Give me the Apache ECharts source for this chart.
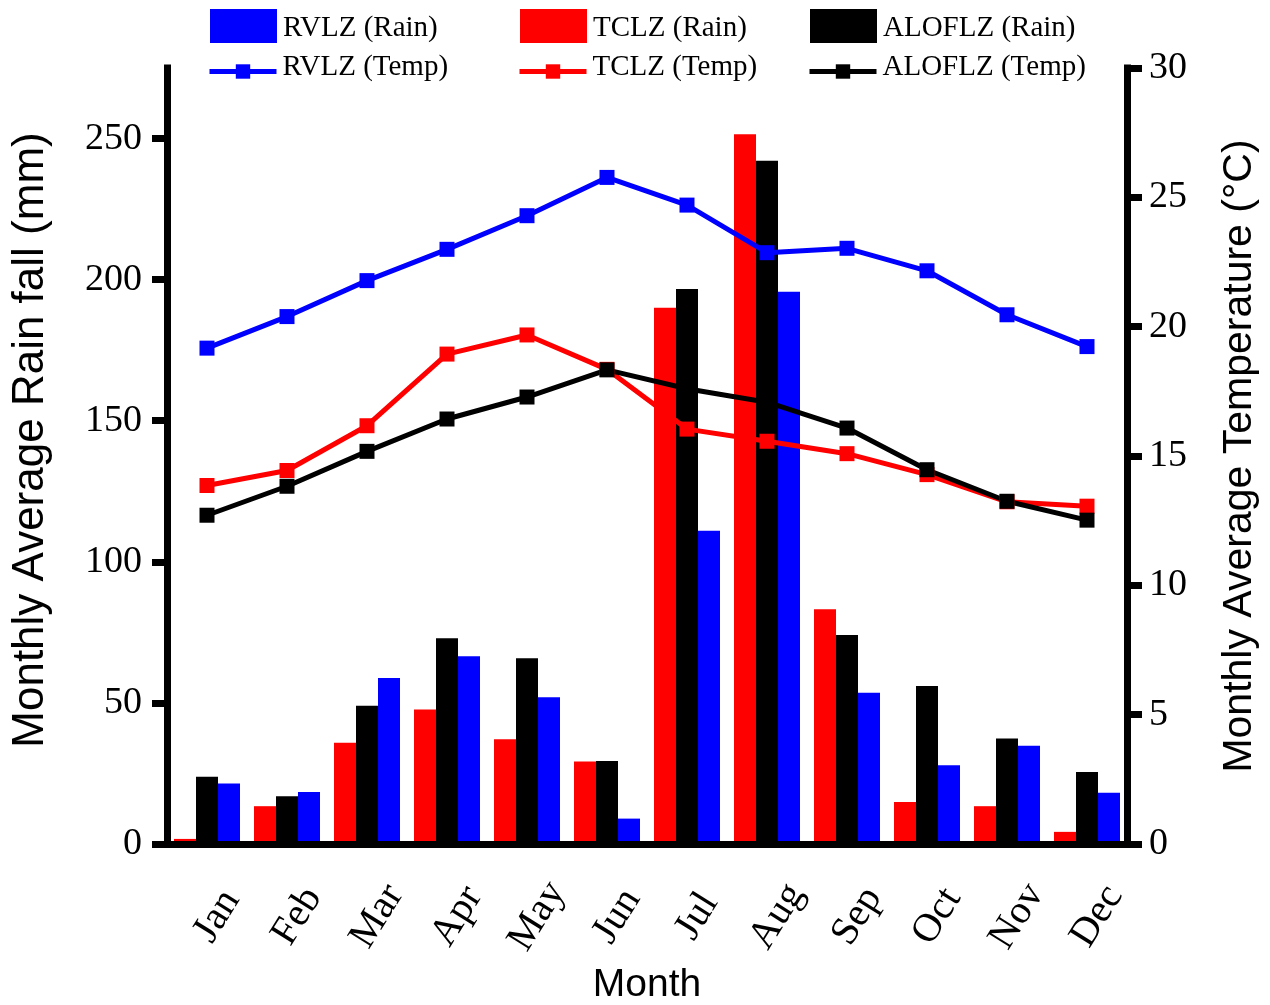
<!DOCTYPE html>
<html>
<head>
<meta charset="utf-8">
<script src="https://cdn.jsdelivr.net/npm/echarts@6/dist/echarts.min.js"></script>
<style>
  html, body { margin: 0; padding: 0; background: #fff; }
  #chart { width: 1270px; height: 1005px; }
</style>
</head>
<body>
<div id="chart"></div>
<script>
// Months on the category axis
const months = ['Jan', 'Feb', 'Mar', 'Apr', 'May', 'Jun', 'Jul', 'Aug', 'Sep', 'Oct', 'Nov', 'Dec'];

// Monthly average rainfall (mm)
const rainTCLZ   = [1.8, 13.4, 35.9, 47.7, 37.1, 29.2, 190.0, 251.5, 83.2, 14.9, 13.4, 4.3];
const rainALOFLZ = [23.8, 16.9, 49.0, 72.9, 65.8, 29.4, 196.7, 242.1, 74.1, 56.0, 37.4, 25.5];
const rainRVLZ   = [21.4, 18.4, 58.8, 66.5, 52.0, 9.0, 111.0, 195.7, 53.6, 27.9, 34.8, 18.2];

// Monthly average temperature (°C)
const tempRVLZ   = [19.17, 20.39, 21.78, 22.99, 24.29, 25.77, 24.70, 22.86, 23.03, 22.16, 20.46, 19.23];
const tempTCLZ   = [13.86, 14.44, 16.17, 18.94, 19.68, 18.35, 16.04, 15.57, 15.09, 14.28, 13.23, 13.06];
const tempALOFLZ = [12.71, 13.83, 15.18, 16.43, 17.28, 18.33, 17.60, 17.08, 16.08, 14.47, 13.25, 12.52];

// Tick values of the two value axes
const rainTicks = [0, 50, 100, 150, 200, 250];
const tempTicks = [0, 5, 10, 15, 20, 25, 30];

const BLUE = '#0000ff', RED = '#ff0000', BLACK = '#000000';
const SERIF = 'Liberation Serif';
const SANS = 'Liberation Sans';

const chart = echarts.init(document.getElementById('chart'), null, { renderer: 'canvas' });

const axisLineStyle = { color: BLACK, width: 7, cap: 'square' };
const tickStyle = { color: BLACK, width: 7 };

function barSeries(name, data, color) {
  return {
    name, type: 'bar', data, yAxisIndex: 0,
    barWidth: 22, barGap: '0%',
    itemStyle: { color },
    emphasis: { disabled: true }
  };
}
function lineSeries(name, data, color) {
  return {
    name, type: 'line', data, yAxisIndex: 1,
    symbol: 'rect', symbolSize: 15,
    lineStyle: { color, width: 5 },
    itemStyle: { color },
    emphasis: { disabled: true },
    z: 5
  };
}
function legendAt(name, left, top, isBar) {
  return {
    data: [isBar ? { name, icon: 'rect' } : { name }],
    left, top, padding: 0,
    orient: 'vertical',
    itemWidth: 67, itemHeight: isBar ? 34 : 18,
    selectedMode: false,
    lineStyle: { width: 5 },
    formatter: '{t|{name}}',
    textStyle: {
      fontFamily: SERIF, fontSize: 29, color: BLACK,
      rich: {
        t: {
          fontFamily: SERIF, fontSize: 29, color: BLACK,
          padding: isBar ? [5, 0, 0, 1] : [0, 0, 8, 1]
        }
      }
    }
  };
}

const option = {
  animation: false,
  backgroundColor: '#fff',
  legend: [
    legendAt('RVLZ (Rain)', 210, 9, true),
    legendAt('TCLZ (Rain)', 520, 9, true),
    legendAt('ALOFLZ (Rain)', 810, 9, true),
    legendAt('RVLZ (Temp)', 207, 53, false),
    legendAt('TCLZ (Temp)', 517, 53, false),
    legendAt('ALOFLZ (Temp)', 807, 53, false)
  ],
  grid: { left: 167, right: 143, top: 68, bottom: 161, outerBoundsMode: 'none', containLabel: false },
  xAxis: {
    type: 'category',
    data: months,
    boundaryGap: true,
    z: 10,
    name: 'Month',
    nameLocation: 'middle',
    nameGap: 122,
    nameTextStyle: { fontFamily: SANS, fontSize: 39, color: BLACK },
    axisLine: { lineStyle: axisLineStyle },
    axisTick: { alignWithLabel: true, length: 15, lineStyle: tickStyle },
    axisLabel: {
      rotate: 58, align: 'center', verticalAlign: 'top', lineHeight: 24, margin: 66,
      fontFamily: SERIF, fontSize: 40, color: BLACK, interval: 0
    },
    splitLine: { show: false }
  },
  yAxis: [
    {
      type: 'value', position: 'left', min: 0, max: 275, interval: 50,
      z: 10,
      name: 'Monthly Average Rain fall (mm)',
      nameLocation: 'middle', nameGap: 114,
      nameTextStyle: { fontFamily: SANS, fontSize: 44, color: BLACK, padding: [0, 0, 0, 32] },
      axisLine: { show: true, lineStyle: axisLineStyle },
      axisTick: { show: true, length: 15, lineStyle: tickStyle, customValues: rainTicks },
      axisLabel: { margin: 25, fontFamily: SERIF, fontSize: 38, color: BLACK, customValues: rainTicks },
      splitLine: { show: false }
    },
    {
      type: 'value', position: 'right', min: 0, max: 30, interval: 5,
      z: 10,
      name: 'Monthly Average Temperature (°C)',
      nameLocation: 'middle', nameGap: 92,
      nameTextStyle: { fontFamily: SANS, fontSize: 41, color: BLACK },
      axisLine: { show: true, lineStyle: axisLineStyle },
      axisTick: { show: true, length: 15, lineStyle: tickStyle, customValues: tempTicks },
      axisLabel: { margin: 22, fontFamily: SERIF, fontSize: 38, color: BLACK, customValues: tempTicks },
      splitLine: { show: false }
    }
  ],
  series: [
    barSeries('TCLZ (Rain)', rainTCLZ, RED),
    barSeries('ALOFLZ (Rain)', rainALOFLZ, BLACK),
    barSeries('RVLZ (Rain)', rainRVLZ, BLUE),
    lineSeries('RVLZ (Temp)', tempRVLZ, BLUE),
    lineSeries('TCLZ (Temp)', tempTCLZ, RED),
    lineSeries('ALOFLZ (Temp)', tempALOFLZ, BLACK)
  ]
};

chart.setOption(option);
</script>
</body>
</html>
